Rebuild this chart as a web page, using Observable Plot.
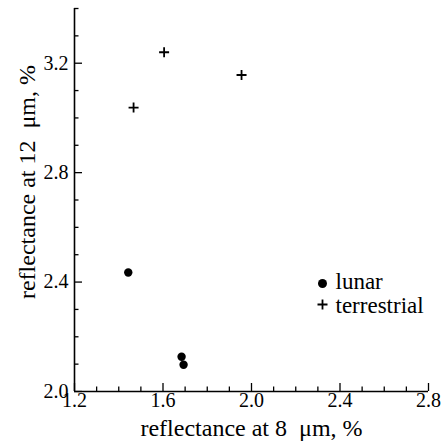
<!DOCTYPE html>
<html>
<head>
<meta charset="utf-8">
<script src="https://cdn.jsdelivr.net/npm/d3@7"></script>
<script src="https://cdn.jsdelivr.net/npm/@observablehq/plot@0.6"></script>
<style>
  html, body { margin: 0; padding: 0; background: #fff; overflow: hidden; }
  svg { display: block; }
  #wrap { position: relative; width: 443px; height: 444px; }
  #ytitle {
    position: absolute; left: 27px; top: 182px;
    transform: translate(-50%, -50%) rotate(-90deg);
    font-family: 'Liberation Serif', 'Times New Roman', serif;
    font-size: 24px; line-height: 1; white-space: pre; color: #000;
  }
</style>
</head>
<body>
<div id="wrap"><div id="chart"></div><div id="ytitle"></div></div>
<script>
// Data
const lunarX = [1.443, 1.684, 1.693];
const lunarY = [2.435, 2.127, 2.098];
const terrX = [1.467, 1.605, 1.955];
const terrY = [3.038, 3.240, 3.157];
const xMajorTicks = [1.2, 1.6, 2.0, 2.4, 2.8];
const yMajorTicks = [2.0, 2.4, 2.8, 3.2];
const xMinorTicks = [1.3, 1.4, 1.5, 1.7, 1.8, 1.9, 2.1, 2.2, 2.3, 2.5, 2.6, 2.7];
const yMinorTicks = [2.1, 2.2, 2.3, 2.5, 2.6, 2.7, 2.9, 3.0, 3.1, 3.3, 3.4];
const seriesNames = ["lunar", "terrestrial"];
const xTitle = "reflectance at 8\u00a0 \u03bcm, %";
const yTitle = "reflectance at 12  \u03bcm, %";

const lunar = lunarX.map((x, i) => ({x, y: lunarY[i]}));
const terr = terrX.map((x, i) => ({x, y: terrY[i]}));

// thin plus symbol
const thinPlus = {
  draw(context, size) {
    const a = Math.sqrt(size / Math.PI);
    context.moveTo(-a, 0); context.lineTo(a, 0);
    context.moveTo(0, -a); context.lineTo(0, a);
  }
};

const font = "'Liberation Serif', 'Times New Roman', serif";
const fmt = d3.format(".1f");

const chart = Plot.plot({
  width: 443,
  height: 444,
  marginLeft: 74,
  marginRight: 15,
  marginTop: 8,
  marginBottom: 53,
  style: {fontFamily: font, fontSize: "20px", color: "#000", background: "#fff"},
  x: {domain: [1.2, 2.8]},
  y: {domain: [2.0, 3.4]},
  marks: [
    // minor ticks (drawn inward)
    Plot.axisX({ticks: xMinorTicks, tickSize: 4.5, dy: -4.5, tickFormat: () => "", label: null, strokeWidth: 1.3}),
    Plot.axisY({ticks: yMinorTicks, tickSize: 4.5, dx: 4.5, tickFormat: () => "", label: null, strokeWidth: 1.3}),
    // major ticks (drawn inward)
    Plot.axisX({ticks: xMajorTicks, tickSize: 8, dy: -8, tickFormat: () => "", label: null, strokeWidth: 1.3}),
    Plot.axisY({ticks: yMajorTicks, tickSize: 8, dx: 8, tickFormat: () => "", label: null, strokeWidth: 1.3}),
    // tick labels
    Plot.axisX({ticks: xMajorTicks, tickSize: 0, tickPadding: 1, tickFormat: fmt, label: null, fontSize: 20}),
    Plot.axisY({ticks: yMajorTicks, tickSize: 0, tickPadding: 6, tickFormat: fmt, label: null, fontSize: 20}),
    // x axis title
    Plot.axisX({ticks: [], tickSize: 0, label: xTitle, labelAnchor: "center", labelArrow: "none", labelOffset: 44, fontSize: 24}),
    // axis lines
    Plot.ruleX([1.2], {strokeWidth: 1.6}),
    Plot.ruleY([2.0], {strokeWidth: 1.6}),
    // data
    Plot.dot(lunar, {x: "x", y: "y", r: 4.2, fill: "black", stroke: null}),
    Plot.dot(terr, {x: "x", y: "y", r: 5, symbol: thinPlus, stroke: "black", strokeWidth: 1.8, fill: "none"}),
    // legend
    Plot.dot([seriesNames[0]], {frameAnchor: "top-left", dx: 248, dy: 275, r: 4.5, fill: "black", stroke: null}),
    Plot.dot([seriesNames[1]], {frameAnchor: "top-left", dx: 248, dy: 296, r: 5, symbol: thinPlus, stroke: "black", strokeWidth: 1.8, fill: "none"}),
    Plot.text([seriesNames[0]], {frameAnchor: "top-left", dx: 261, dy: 273, text: d => d, textAnchor: "start", lineAnchor: "middle", fontSize: 23}),
    Plot.text([seriesNames[1]], {frameAnchor: "top-left", dx: 261, dy: 297, text: d => d, textAnchor: "start", lineAnchor: "middle", fontSize: 23})
  ]
});
document.getElementById("chart").appendChild(chart);
document.getElementById("ytitle").textContent = yTitle;
</script>
</body>
</html>
